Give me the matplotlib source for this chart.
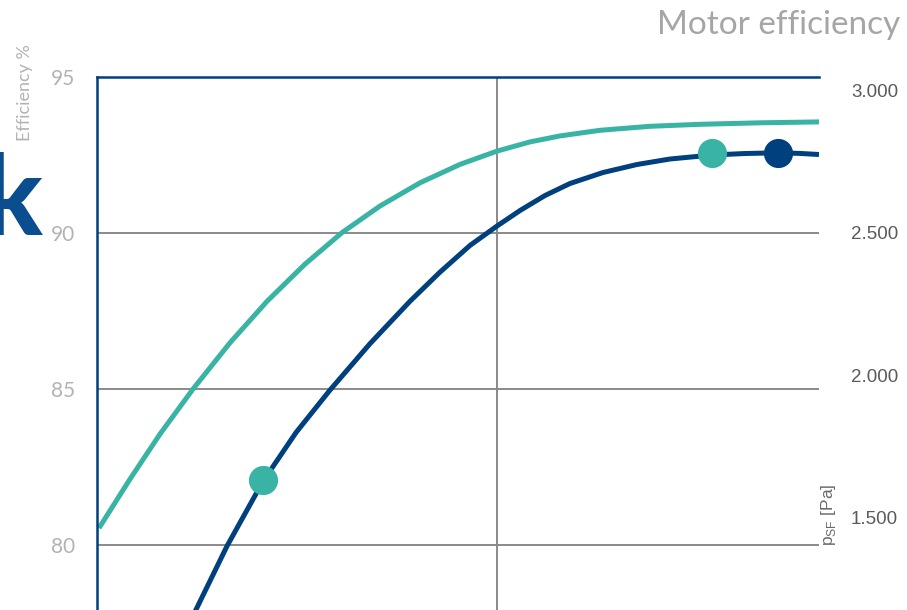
import numpy as np
import matplotlib
matplotlib.use('Agg')
import matplotlib.pyplot as plt

# flow axis (arbitrary units, grid line at 100)
ie_x = [0.5, 8.25, 15.75, 24.0, 33.25, 42.5, 52.0, 61.25, 70.75, 80.75,
        90.75, 100.0, 108.25, 115.75, 125.75, 138.25, 150.75, 165.75, 180.5]
ie_y = [80.545, 82.115, 83.558, 85.0, 86.484, 87.811, 89.003, 90.013, 90.865, 91.609,
        92.199, 92.625, 92.920, 93.112, 93.292, 93.420, 93.484, 93.532, 93.561]

ec_x = [24.5, 32.5, 41.5, 49.75, 58.25, 68.25, 78.25, 85.75, 93.25, 100.0,
        105.75, 112.0, 118.25, 126.5, 135.0, 143.25, 153.75, 162.0, 170.25,
        175.75, 180.5]
ec_y = [77.865, 79.968, 82.045, 83.606, 84.968, 86.455, 87.814, 88.747, 89.603, 90.224,
        90.721, 91.202, 91.587, 91.939, 92.196, 92.372, 92.500, 92.548, 92.571,
        92.551, 92.516]

# operating points
dot_x = [41.5, 153.75, 170.25]
dot_y = [82.1, 92.555, 92.555]

left_ticks = [80, 85, 90, 95]
right_ticks = [1500, 2000, 2500, 3000]
right_labels = ['1.500', '2.000', '2.500', '3.000']

teal = '#39b3a4'
navy = '#00407f'
grey = '#8a8a8a'

fig = plt.figure(figsize = (9.07, 6.10), dpi = 100)
ax = fig.add_axes([97 / 907, 0, 722 / 907, 533 / 610])

ax.plot(ie_x, ie_y, color = teal, linewidth = 3.6, solid_capstyle = 'butt',
        solid_joinstyle = 'round', zorder = 3)
ax.plot(ec_x, ec_y, color = navy, linewidth = 3.6, solid_capstyle = 'butt',
        solid_joinstyle = 'round', zorder = 3)
ax.plot(dot_x[:2], dot_y[:2], linestyle = 'none', marker = 'o', markersize = 21,
        color = teal, markeredgewidth = 0, zorder = 4)
ax.plot(dot_x[2:], dot_y[2:], linestyle = 'none', marker = 'o', markersize = 21,
        color = navy, markeredgewidth = 0, zorder = 4)

ax.set_xlim(0, 180.5)
ax.set_ylim(77.92, 95)
ax.set_xticks([100])
ax.set_xticklabels([])
ax.set_yticks(left_ticks)
ax.tick_params(axis = 'both', length = 0)
ax.tick_params(axis = 'y', labelsize = 15, labelcolor = '#b3b3b3', pad = 16)
for lab in ax.get_yticklabels():
    lab.set_family('Lato')
ax.grid(True, color = grey, linewidth = 1.4)
ax.set_axisbelow(True)

for side in ['right', 'bottom']:
    ax.spines[side].set_visible(False)
for side in ['left', 'top']:
    ax.spines[side].set_color(navy)
    ax.spines[side].set_linewidth(1.8)
    ax.spines[side].set_zorder(5)

# pressure axis on the right
ax2 = ax.twinx()
ax2.set_ylim(1177.5, 3045.6)
ax2.set_yticks(right_ticks)
ax2.set_yticklabels(right_labels, family = 'Liberation Sans', fontsize = 13.5, color = '#5a5a5a')
ax2.tick_params(axis = 'y', length = 0, pad = 23)
for s in ax2.spines.values():
    s.set_visible(False)

fig.text(900 / 907, 1 - 25 / 610, 'Motor efficiency', ha = 'right', va = 'center',
         fontsize = 24, color = '#a6a6a6', family = 'Lato')
fig.text(25 / 907, 1 - 93 / 610, 'Efficiency %', rotation = 90, ha = 'center', va = 'center',
         fontsize = 13, color = '#b3b3b3', family = 'Lato')
fig.text(42 / 907, 1 - 235 / 610, 'k', ha = 'right', va = 'baseline',
         fontsize = 80, fontweight = 'black', color = '#0a4e8f', family = 'Lato')
fig.text(829 / 907, 1 - 546 / 610, r'p$_{\mathregular{SF}}$ [Pa]', rotation = 90,
         ha = 'center', va = 'bottom', fontsize = 12.5, color = '#6a6a6a',
         family = 'Liberation Sans')

fig.savefig('out.png', dpi = 100)
